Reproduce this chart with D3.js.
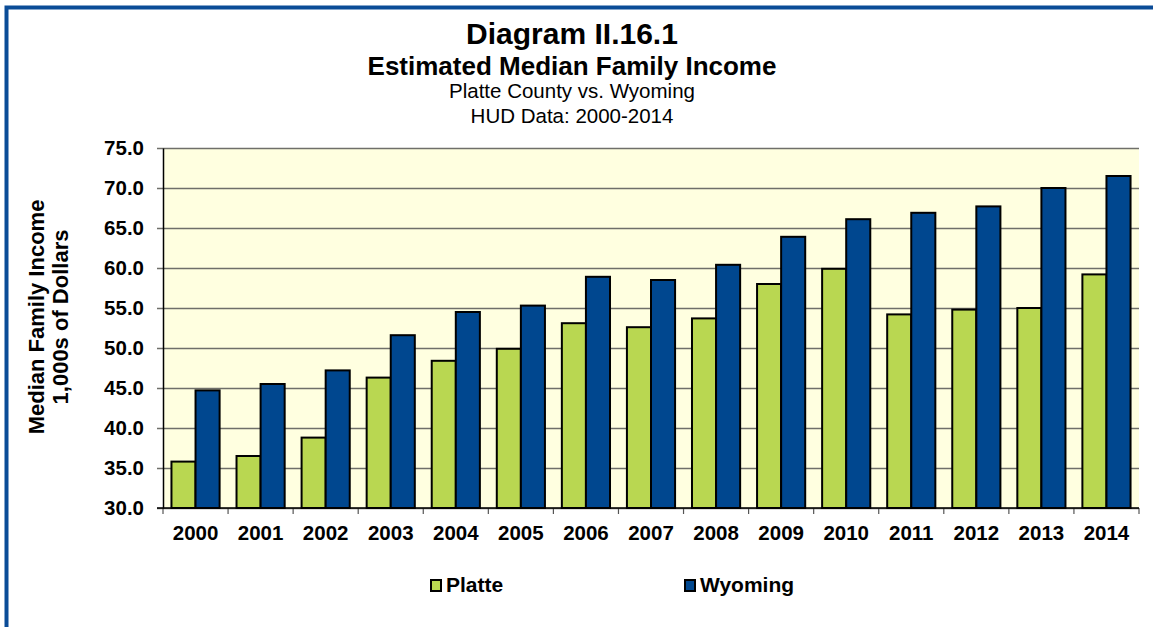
<!DOCTYPE html>
<html>
<head>
<meta charset="utf-8">
<script src="https://cdn.jsdelivr.net/npm/d3@7"></script>
<style>
  html, body { margin: 0; padding: 0; background: #fff; }
  svg { display: block; font-family: "Liberation Sans", Arial, sans-serif; }
</style>
</head>
<body>
<svg id="chart" width="1153" height="627"></svg>
<script>
const years = ["2000","2001","2002","2003","2004","2005","2006","2007","2008","2009","2010","2011","2012","2013","2014"];
const platte = [35.8, 36.5, 38.8, 46.3, 48.4, 49.9, 53.1, 52.6, 53.7, 58.0, 59.9, 54.2, 54.8, 55.0, 59.2];
const wyoming = [44.7, 45.5, 47.2, 51.6, 54.5, 55.3, 58.9, 58.5, 60.4, 63.9, 66.1, 66.9, 67.7, 70.0, 71.5];
const seriesNames = ["Platte", "Wyoming"];
const yTicks = [30, 35, 40, 45, 50, 55, 60, 65, 70, 75];
const titleLines = ["Diagram II.16.1", "Estimated Median Family Income", "Platte County vs. Wyoming", "HUD Data: 2000-2014"];
const yTitleLines = ["Median Family Income", "1,000s of Dollars"];

const colors = { Platte: "#B9D751", Wyoming: "#00478F" };
const svg = d3.select("#chart");
const W = 1153, H = 627;
const plot = { left: 163, right: 1139, top: 148, bottom: 508 };

// frame border
svg.append("rect").attr("x", 6.5).attr("y", 7.5).attr("width", W + 20).attr("height", H + 20)
  .attr("fill", "none").attr("stroke", "#0B4C97").attr("stroke-width", 4);

// titles
const tSpec = [
  { size: 30, weight: "bold", y: 44 },
  { size: 26, weight: "bold", y: 75 },
  { size: 20.5, weight: "normal", y: 98 },
  { size: 20.5, weight: "normal", y: 123 }
];
titleLines.forEach((t, i) => {
  svg.append("text").attr("x", 572).attr("y", tSpec[i].y).attr("text-anchor", "middle")
    .attr("font-size", tSpec[i].size).attr("font-weight", tSpec[i].weight).attr("fill", "#000").text(t);
});

const x = d3.scaleBand().domain(years).range([plot.left, plot.right]).paddingInner(0).paddingOuter(0);
const bw = x.bandwidth();
const xs = d3.scaleBand().domain(seriesNames).range([bw * 0.13, bw * 0.87]).padding(0);
const y = d3.scaleLinear().domain([30, 75]).range([plot.bottom, plot.top]);

// background
svg.append("rect").attr("x", plot.left).attr("y", plot.top)
  .attr("width", plot.right - plot.left).attr("height", plot.bottom - plot.top).attr("fill", "#FFFFE0");

// gridlines (with tick extension to the left)
const grid = svg.append("g").attr("transform", `translate(${plot.right},0)`)
  .call(d3.axisLeft(y).tickValues(yTicks).tickSize(plot.right - plot.left + 6).tickFormat(""));
grid.select(".domain").remove();
grid.selectAll("line").attr("stroke", "#6f6f6a").attr("stroke-width", 1.5);

// bars
const data = years.map((yr, i) => ({ year: yr, values: [{ k: "Platte", v: platte[i] }, { k: "Wyoming", v: wyoming[i] }] }));
const groups = svg.append("g").selectAll("g").data(data).join("g")
  .attr("transform", d => `translate(${x(d.year)},0)`);
groups.selectAll("rect").data(d => d.values).join("rect")
  .attr("x", d => xs(d.k)).attr("width", xs.bandwidth())
  .attr("y", d => y(d.v)).attr("height", d => y(30) - y(d.v))
  .attr("fill", d => colors[d.k]).attr("stroke", "#000").attr("stroke-width", 2);

// x axis ticks at category boundaries
const xb = svg.append("g");
const bounds = years.map(yr => x(yr)).concat([plot.right]);
xb.selectAll("line").data(bounds).join("line")
  .attr("x1", d => d).attr("x2", d => d).attr("y1", plot.bottom).attr("y2", plot.bottom + 6)
  .attr("stroke", "#555").attr("stroke-width", 1.2);
svg.append("line").attr("x1", plot.left - 6).attr("x2", plot.right).attr("y1", plot.bottom).attr("y2", plot.bottom)
  .attr("stroke", "#000").attr("stroke-width", 1.5);

// x axis labels
const xAxis = svg.append("g").attr("transform", `translate(0,${plot.bottom})`)
  .call(d3.axisBottom(x).tickSize(0).tickPadding(0));
xAxis.select(".domain").remove();
xAxis.selectAll("text").attr("y", 32).attr("dy", null).attr("font-size", 20.5).attr("font-weight", "bold")
  .attr("fill", "#000").attr("font-family", "Liberation Sans, Arial, sans-serif");

// y axis
const yAxis = svg.append("g").attr("transform", `translate(${plot.left},0)`)
  .call(d3.axisLeft(y).tickValues(yTicks).tickSize(0).tickPadding(19).tickFormat(d3.format(".1f")));
yAxis.select(".domain").attr("stroke", "#000").attr("stroke-width", 1.5);
yAxis.selectAll("text").attr("font-size", 20.5).attr("font-weight", "bold").attr("fill", "#000")
  .attr("font-family", "Liberation Sans, Arial, sans-serif");

// y title
const yt = svg.append("text").attr("transform", "translate(0,317) rotate(-90)")
  .attr("text-anchor", "middle").attr("font-size", 22).attr("font-weight", "bold").attr("fill", "#000");
yTitleLines.forEach((t, i) => {
  yt.append("tspan").attr("x", 0).attr("y", 44 + i * 24).text(t);
});

// legend
const legendPos = [{ x: 430, tx: 446 }, { x: 684, tx: 700 }];
seriesNames.forEach((n, i) => {
  svg.append("rect").attr("x", legendPos[i].x + 1).attr("y", 580).attr("width", 10).attr("height", 11)
    .attr("fill", colors[n]).attr("stroke", "#000").attr("stroke-width", 2);
  svg.append("text").attr("x", legendPos[i].tx).attr("y", 592).attr("font-size", 21)
    .attr("font-weight", "bold").attr("fill", "#000").text(n);
});
</script>
</body>
</html>
